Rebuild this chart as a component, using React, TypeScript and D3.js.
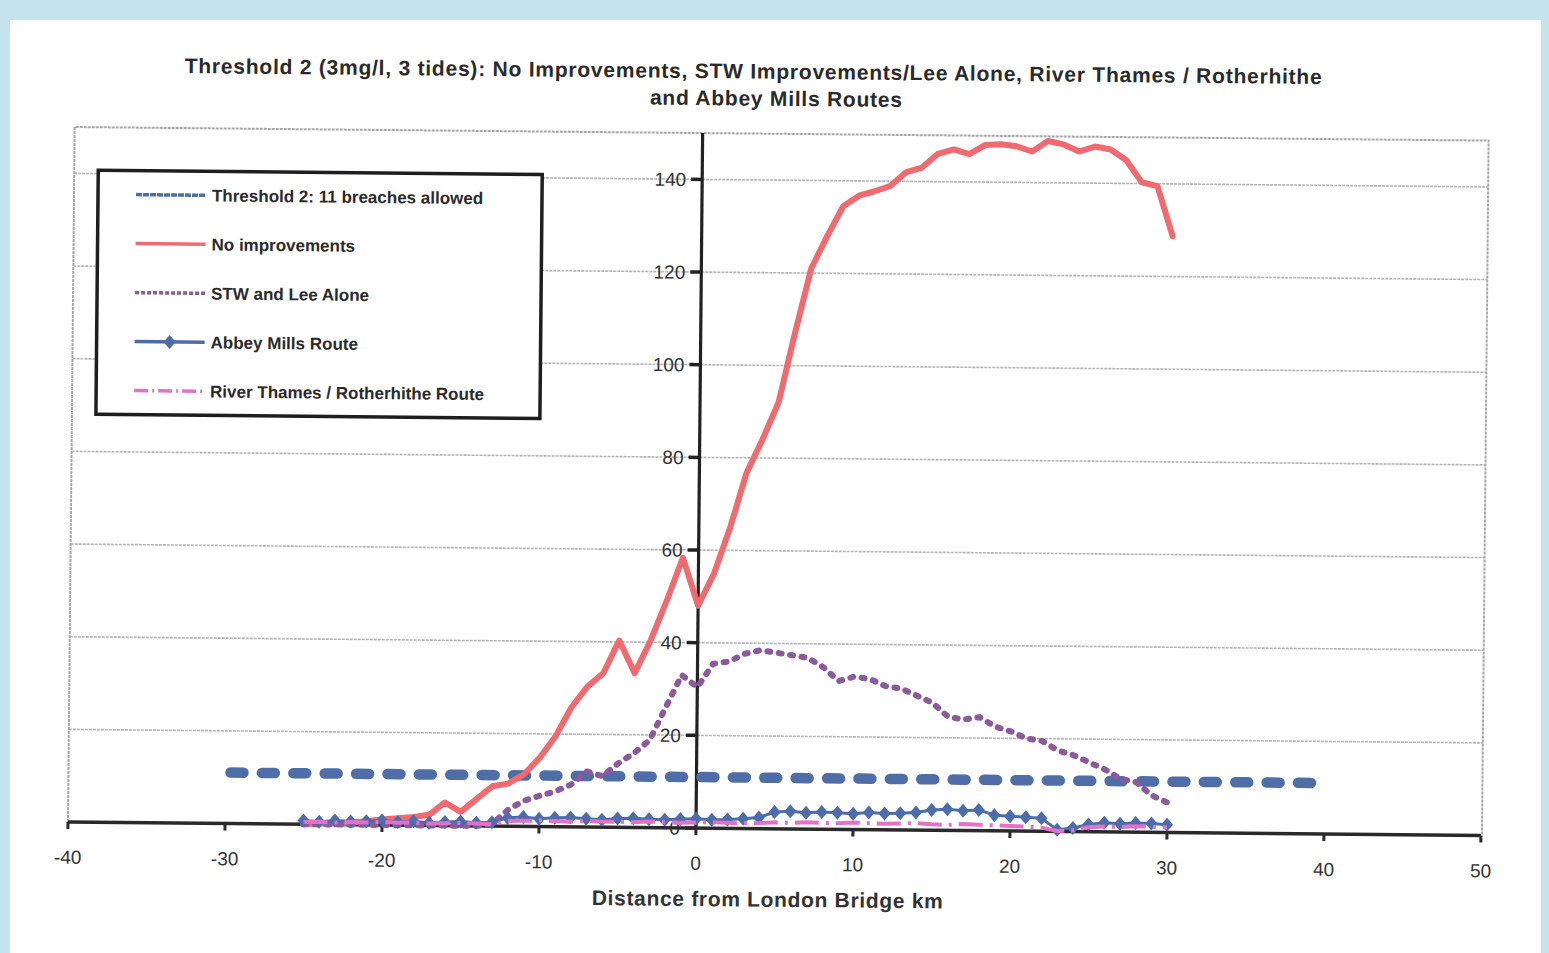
import React from "react";
import * as d3 from "d3";

const distanceKm = [
  -25, -24, -23, -22, -21, -20, -19, -18, -17, -16, -15, -14, -13, -12, -11, -10, -9, -8, -7, -6, -5, -4, -3, -2, -1,
  0, 1, 2, 3, 4, 5, 6, 7, 8, 9, 10, 11, 12, 13, 14, 15, 16, 17, 18, 19, 20, 21, 22, 23, 24, 25, 26, 27, 28, 29, 30,
];

const noImprovements = [
  0, 0.2, 0.3, 0.5, 0.8, 1.2, 1.5, 1.8, 2.3, 5, 3, 5.8, 8.6, 9.2, 11.2, 14.8, 19.5, 25.8, 30.3, 33.2, 40.3, 33.3, 40.4, 49, 58.3,
  48, 55, 65, 76.7, 84, 92, 107, 121, 128, 134.5, 136.8, 137.8, 139, 142, 143, 146, 147, 146, 148, 148.2, 147.8, 146.7, 149,
  148.3, 146.8, 147.9, 147.3, 145, 140.3, 139.5, 128.7,
];

const stwLeeAlone = [
  0, 0, 0, 0, 0, 0, 0, 0, 0, 0, 0, 0, 0.4, 3.5, 5.5, 6.6, 7.6, 9.1, 12, 11, 13.8, 16, 18.9, 26, 33,
  30.4, 35.5, 36, 37.7, 38.5, 38, 37.5, 37, 35, 32, 33, 32.5, 31, 30.5, 29, 27.5, 24.5, 24, 24.5, 22.5, 21.5, 20, 19.5,
  17.5, 16.5, 15, 13.5, 11.5, 10.8, 8, 6.5,
];

const abbeyMills = [
  0.8, 0.6, 0.9, 0.7, 0.8, 1.0, 0.7, 0.9, 0.6, 0.8, 0.9, 0.7, 0.8,
  1.8, 2.0, 1.7, 1.9, 2.0, 1.8, 1.6, 1.9, 2.0, 1.8, 1.7, 1.9, 2.0, 1.8, 1.9, 2.1, 2.4,
  3.6, 3.8, 3.5, 3.7, 3.6, 3.4, 3.7, 3.5, 3.6, 3.8,
  4.4, 4.6, 4.3, 4.5,
  3.4, 3.2, 3.0, 2.8,
  0.4, 0.8,
  1.6, 2.0, 1.8, 2.0, 1.9, 1.7,
];

const riverThames = [
  0.5, 0.6, 0.4, 0.6, 0.5, 0.7, 0.5, 0.6, 0.4, 0.5, 0.6, 0.5, 0.4,
  1.1, 1.2, 1.3, 1.2, 1.1, 1.3, 1.2, 1.2, 1.1, 1.3, 1.2, 1.1, 1.2, 1.3, 1.2, 1.1, 1.2,
  1.4, 1.3, 1.5, 1.4, 1.3, 1.5, 1.4, 1.3, 1.4, 1.5,
  1.3, 1.2, 1.4, 1.3,
  1.2, 1.1, 1.0, 0.8,
  0.1, 0.3,
  1.0, 1.2, 1.1, 1.3, 1.2, 1.1,
];

const thresholdKm = [-30, 40];
const thresholdValue = [11, 11];

const xTicks = [-40, -30, -20, -10, 0, 10, 20, 30, 40, 50];
const yTicks = [0, 20, 40, 60, 80, 100, 120, 140];

const titleLines = [
  "Threshold 2 (3mg/l, 3 tides): No Improvements, STW Improvements/Lee Alone, River Thames / Rotherhithe",
  "and Abbey Mills Routes",
];
const xAxisTitle = "Distance from London Bridge km";
const legendLabels = [
  "Threshold 2: 11 breaches allowed",
  "No improvements",
  "STW and Lee Alone",
  "Abbey Mills Route",
  "River Thames / Rotherhithe Route",
];

const COL_THRESH = "#4f6ea8";
const COL_RED = "#f06a70";
const COL_PURPLE = "#8c5a9c";
const COL_ABBEY = "#4c6cab";
const COL_PINK = "#e470c8";

const FONT = "'Liberation Sans', Arial, Helvetica, sans-serif";

export default function App() {
  const W = 1549;
  const H = 953;
  const x = d3.scaleLinear().domain([-40, 50]).range([68, 1481]);
  const y = d3.scaleLinear().domain([0, 150]).range([822, 127]);
  const line = d3
    .line<[number, number]>()
    .x((d) => x(d[0]))
    .y((d) => y(d[1]));
  const series = (vals: number[]) => distanceKm.map((k, i) => [k, vals[i]] as [number, number]);
  const thresholdPts = thresholdKm.map((k, i) => [k, thresholdValue[i]] as [number, number]);

  const x0 = x(-40);
  const x1 = x(50);
  const yTop = y(150);
  const yBot = y(0);
  const axisX = x(0);

  const diamond = "M0,-7 L6,0 L0,7 L-6,0 Z";

  const legendY = [194, 243, 292, 341, 390];
  const legendStyles = [
    { stroke: COL_THRESH, dash: "6 1" },
    { stroke: COL_RED, dash: "" },
    { stroke: COL_PURPLE, dash: "4 2" },
    { stroke: COL_ABBEY, dash: "", marker: true },
    { stroke: COL_PINK, dash: "14 4 2 4" },
  ];

  return (
    <div style={{ position: "absolute", left: 0, top: 0, width: W, height: H, overflow: "hidden" }}>
      <svg width={W} height={H} style={{ display: "block" }} fontFamily={FONT}>
        <rect x={0} y={0} width={W} height={H} fill="#c4e3ed" />
        <rect x={10} y={20} width={1531} height={H - 20} fill="#ffffff" />
        <g transform="rotate(0.55, 68, 822)">
          {/* title */}
          <text x={746} y={72} textAnchor="middle" fontSize={21} fontWeight="bold" fill="#2a2a2a" textLength={1137}>
            {titleLines[0]}
          </text>
          <text x={769} y={99} textAnchor="middle" fontSize={21} fontWeight="bold" fill="#2a2a2a" textLength={252}>
            {titleLines[1]}
          </text>

          {/* gridlines */}
          {yTicks.filter((t) => t > 0).map((t) => (
            <line key={"g" + t} x1={x0} x2={x1 + 1} y1={y(t)} y2={y(t)} stroke="#b4b4b4" strokeWidth={1.6} strokeDasharray="3 1" />
          ))}
          {/* plot border */}
          <path
            d={`M${x0},${yBot} L${x0},${yTop} L${x1 + 1},${yTop} L${x1 + 1},${yBot}`}
            fill="none"
            stroke="#a8a8a8"
            strokeWidth={2}
            strokeDasharray="3 1"
          />

          {/* axes */}
          <line x1={axisX} x2={axisX} y1={yBot} y2={yTop} stroke="#222" strokeWidth={3.2} />
          {yTicks.map((t) => (
            <g key={"yt" + t}>
              <line x1={axisX - 11} x2={axisX} y1={y(t)} y2={y(t)} stroke="#222" strokeWidth={3.5} />
              <text x={axisX - 16} y={y(t)} dy="0.36em" textAnchor="end" fontSize={19} fill="#333">
                {t}
              </text>
            </g>
          ))}
          <line x1={x0} x2={x1} y1={yBot} y2={yBot} stroke="#2a2a2a" strokeWidth={3.5} />
          {xTicks.map((t) => (
            <g key={"xt" + t}>
              <line x1={x(t)} x2={x(t)} y1={yBot} y2={yBot + 7} stroke="#2a2a2a" strokeWidth={3} />
              <text x={x(t)} y={yBot + 35} dy="0.36em" textAnchor="middle" fontSize={19} fill="#333">
                {t}
              </text>
            </g>
          ))}
          <text x={768} y={900} textAnchor="middle" fontSize={21} fontWeight="bold" fill="#333" textLength={351}>
            {xAxisTitle}
          </text>

          {/* series */}
          <path
            d={line(thresholdPts) || ""}
            fill="none"
            stroke={COL_THRESH}
            strokeWidth={10.5}
            strokeLinecap="round"
            strokeDasharray="13 18.4"
            strokeDashoffset={-5}
          />
          <path d={line(series(noImprovements)) || ""} fill="none" stroke={COL_RED} strokeWidth={6} strokeLinejoin="round" strokeLinecap="round" />
          <path
            d={line(series(stwLeeAlone)) || ""}
            fill="none"
            stroke={COL_PURPLE}
            strokeWidth={6}
            strokeLinecap="round"
            strokeDasharray="3 8.5"
          />
          <path d={line(series(abbeyMills)) || ""} fill="none" stroke={COL_ABBEY} strokeWidth={3} strokeLinejoin="round" />
          {distanceKm.map((k, i) => (
            <path key={"am" + k} d={diamond} transform={`translate(${x(k)},${y(abbeyMills[i])})`} fill={COL_ABBEY} />
          ))}
          <path
            d={line(series(riverThames)) || ""}
            fill="none"
            stroke={COL_PINK}
            strokeWidth={4}
            strokeDasharray="24 7 3 7"
          />

          {/* legend */}
          <rect x={92} y={170} width={444} height={244} fill="#ffffff" stroke="#1e1e1e" strokeWidth={3.5} />
          {legendLabels.map((lab, i) => {
            const st = legendStyles[i];
            const ly = legendY[i];
            return (
              <g key={"lg" + i}>
                <line x1={130} x2={200} y1={ly} y2={ly} stroke={st.stroke} strokeWidth={3.5} strokeDasharray={st.dash || undefined} />
                {st.marker ? <path d={diamond} transform={`translate(165,${ly})`} fill={st.stroke} /> : null}
                <text x={206} y={ly} dy="0.36em" fontSize={17} fontWeight="bold" fill="#2a2a2a">
                  {lab}
                </text>
              </g>
            );
          })}
        </g>
      </svg>
    </div>
  );
}
